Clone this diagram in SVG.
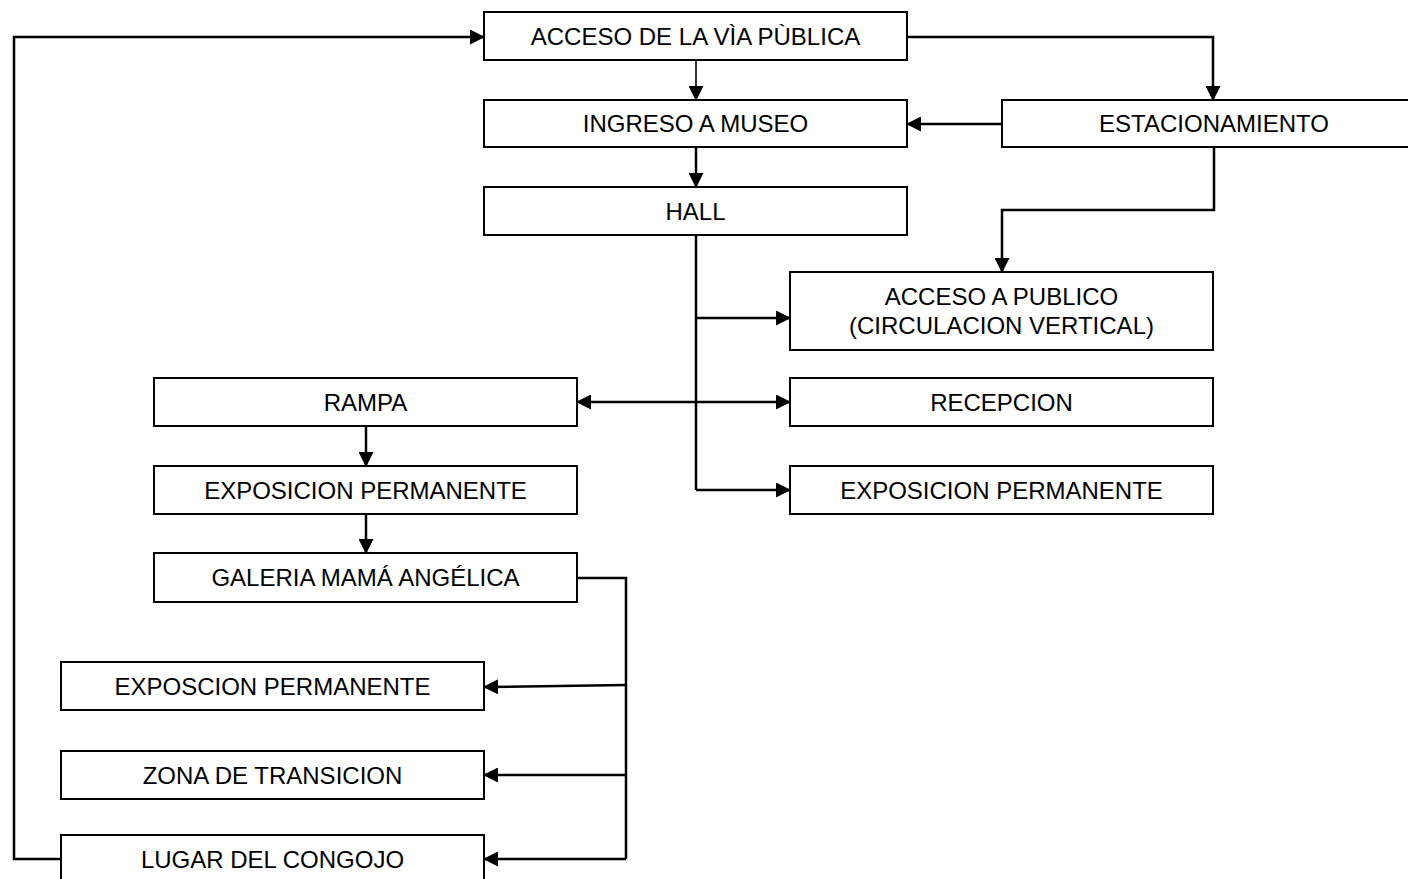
<svg xmlns="http://www.w3.org/2000/svg" width="1408" height="879" viewBox="0 0 1408 879">
  <style>
    .box rect { fill: #fff; stroke: #000; stroke-width: 2; }
    .box text { font-family: "Liberation Sans", Arial, sans-serif; font-size: 24px; fill: #000; text-anchor: middle; }
    .wire { fill: none; stroke: #000; stroke-width: 2.5; }
    .thin { stroke-width: 1.6; }
    .to { marker-end: url(#arrow); }
    .both { marker-start: url(#arrow); marker-end: url(#arrow); }
  </style>
  <defs>
    <marker id="arrow" viewBox="0 0 15 15" refX="14" refY="7.5" markerWidth="15" markerHeight="15" markerUnits="userSpaceOnUse" orient="auto-start-reverse">
      <path d="M0,0 L15,7.5 L0,15 z" fill="#000"/>
    </marker>
  </defs>
  <rect width="1408" height="879" fill="#fff"/>

  <!-- connectors -->
  <g id="connectors">
    <path class="wire to" d="M61,859 H14 V37 H484"/>
    <path class="wire to" d="M907,37 H1213 V100"/>
    <path class="wire thin to" d="M696,60 V100"/>
    <path class="wire to" d="M696,147 V187"/>
    <path class="wire to" d="M1002,124 H907"/>
    <path class="wire to" d="M1214,147 V210 H1002 V272"/>
    <path class="wire" d="M696,235 V490"/>
    <path class="wire to" d="M696,318 H790"/>
    <path class="wire both" d="M577,402 H790"/>
    <path class="wire to" d="M696,490 H790"/>
    <path class="wire to" d="M366,426 V466"/>
    <path class="wire to" d="M366,514 V553"/>
    <path class="wire" d="M577,578 H626 V859"/>
    <path class="wire to" d="M626,685 L484,687"/>
    <path class="wire to" d="M626,775 H484"/>
    <path class="wire to" d="M626,859 H484"/>
  </g>

  <!-- nodes -->
  <g id="acceso-via-publica" class="box">
    <rect x="484" y="12" width="423" height="48"/>
    <text x="695.5" y="44.5">ACCESO DE LA VÌA PÙBLICA</text>
  </g>
  <g id="ingreso-museo" class="box">
    <rect x="484" y="100" width="423" height="47"/>
    <text x="695.5" y="132">INGRESO A MUSEO</text>
  </g>
  <g id="estacionamiento" class="box">
    <rect x="1002" y="100" width="424" height="47"/>
    <text x="1214" y="132">ESTACIONAMIENTO</text>
  </g>
  <g id="hall" class="box">
    <rect x="484" y="187" width="423" height="48"/>
    <text x="695.5" y="219.5">HALL</text>
  </g>
  <g id="acceso-publico" class="box">
    <rect x="790" y="272" width="423" height="78"/>
    <text x="1001.5" y="304.5">ACCESO A PUBLICO</text>
    <text x="1001.5" y="333.5">(CIRCULACION VERTICAL)</text>
  </g>
  <g id="recepcion" class="box">
    <rect x="790" y="378" width="423" height="48"/>
    <text x="1001.5" y="410.5">RECEPCION</text>
  </g>
  <g id="exposicion-permanente-hall" class="box">
    <rect x="790" y="466" width="423" height="48"/>
    <text x="1001.5" y="498.5">EXPOSICION PERMANENTE</text>
  </g>
  <g id="rampa" class="box">
    <rect x="154" y="378" width="423" height="48"/>
    <text x="365.5" y="410.5">RAMPA</text>
  </g>
  <g id="exposicion-permanente-rampa" class="box">
    <rect x="154" y="466" width="423" height="48"/>
    <text x="365.5" y="498.5">EXPOSICION PERMANENTE</text>
  </g>
  <g id="galeria" class="box">
    <rect x="154" y="553" width="423" height="49"/>
    <text x="365.5" y="586">GALERIA MAMÁ ANGÉLICA</text>
  </g>
  <g id="exposcion-permanente" class="box">
    <rect x="61" y="662" width="423" height="48"/>
    <text x="272.5" y="694.5">EXPOSCION PERMANENTE</text>
  </g>
  <g id="zona-transicion" class="box">
    <rect x="61" y="751" width="423" height="48"/>
    <text x="272.5" y="783.5">ZONA DE TRANSICION</text>
  </g>
  <g id="lugar-congojo" class="box">
    <rect x="61" y="835" width="423" height="48"/>
    <text x="272.5" y="867.5">LUGAR DEL CONGOJO</text>
  </g>
</svg>
